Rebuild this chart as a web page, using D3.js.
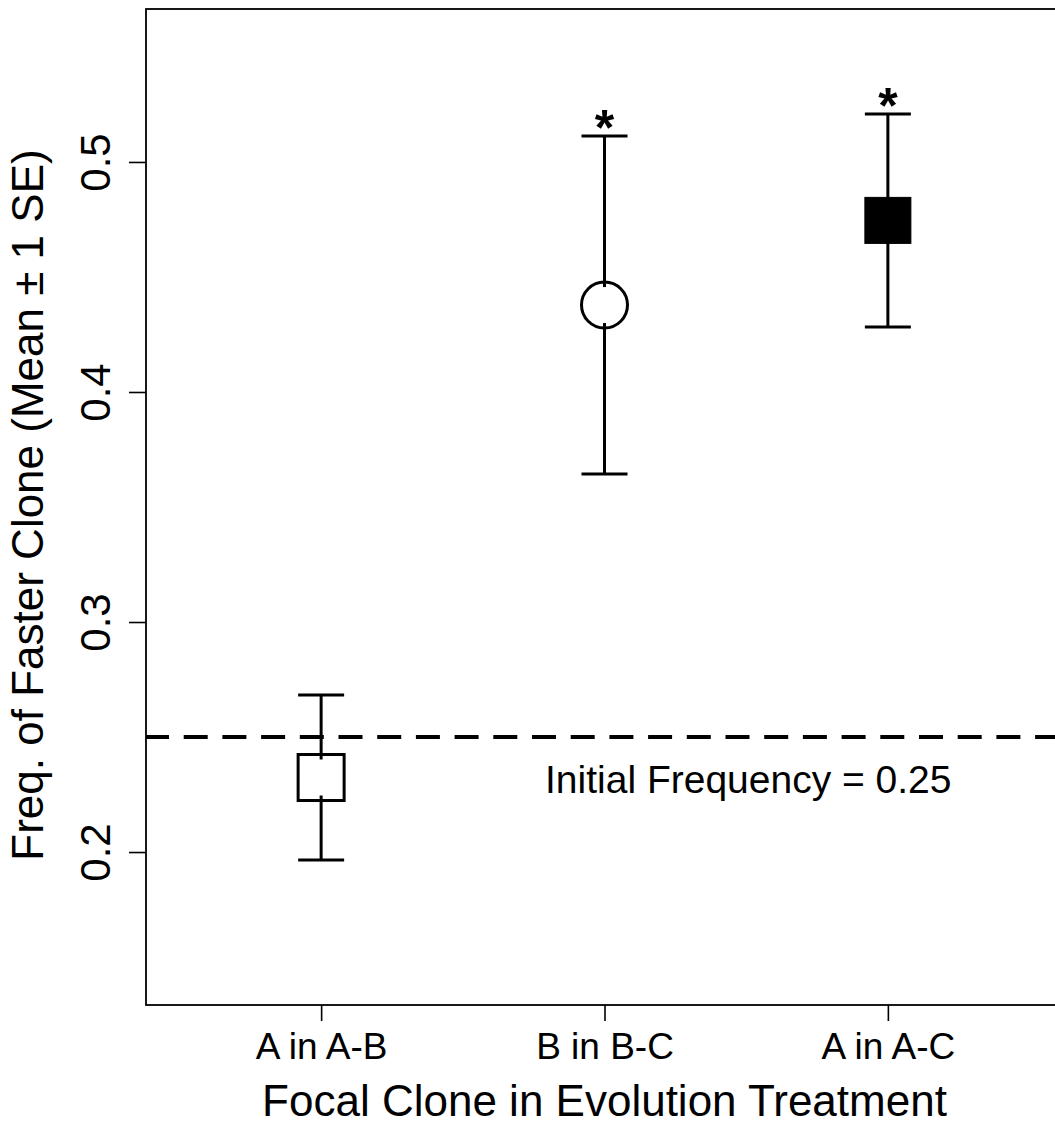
<!DOCTYPE html>
<html>
<head>
<meta charset="utf-8">
<script src="https://cdn.jsdelivr.net/npm/d3@7"></script>
<style>
  html, body { margin: 0; padding: 0; background: #fff; }
  svg { display: block; }
  text { font-family: "Liberation Sans", Arial, Helvetica, sans-serif; fill: #000; }
</style>
</head>
<body>
<script>
// ---- data ----
const categories = ["A in A-B", "B in B-C", "A in A-C"];
const means = [0.2324, 0.4378, 0.4746];
const upper = [0.2683, 0.5113, 0.5209];
const lower = [0.1965, 0.3643, 0.4283];
const markers = ["square-open", "circle-open", "square-filled"];
const significant = [false, true, true];
const yTicks = [0.2, 0.3, 0.4, 0.5];
const initialFreq = 0.25;
const initialLabel = "Initial Frequency = 0.25";
const xTitle = "Focal Clone in Evolution Treatment";
const yTitle = "Freq. of Faster Clone (Mean \u00B1 1 SE)";

// ---- layout ----
const W = 1055, H = 1127;
const mLeft = 146, mTop = 9, mRight = 1063, mBottom = 1005;

const svg = d3.select("body").append("svg").attr("width", W).attr("height", H);

const x = d3.scaleLinear().domain([0.382, 3.618]).range([mLeft, mRight]);
const y = d3.scaleLinear().domain([0.1335, 0.5665]).range([mBottom, mTop]);

// box
svg.append("rect")
  .attr("x", mLeft).attr("y", mTop)
  .attr("width", mRight - mLeft).attr("height", mBottom - mTop)
  .attr("fill", "none").attr("stroke", "#000").attr("stroke-width", 1.8);

// y axis
const yAxis = svg.append("g")
  .attr("transform", `translate(${mLeft},0)`)
  .call(d3.axisLeft(y).tickValues(yTicks).tickSize(17).tickFormat(d3.format(".1f")));
yAxis.select(".domain").remove();
yAxis.selectAll(".tick line").attr("stroke", "#000").attr("stroke-width", 1.6);
yAxis.selectAll(".tick text")
  .attr("x", 0).attr("y", 0).attr("dy", 0)
  .attr("text-anchor", "middle")
  .attr("transform", "translate(-36,0) rotate(-90)")
  .style("font-size", "42px")
  .style("font-family", '"Liberation Sans", Arial, sans-serif')
  .attr("fill", "#000");

// x axis
const xAxis = svg.append("g")
  .attr("transform", `translate(0,${mBottom})`)
  .call(d3.axisBottom(x).tickValues([1, 2, 3]).tickSize(16).tickFormat((d, i) => categories[i]));
xAxis.select(".domain").remove();
xAxis.selectAll(".tick line").attr("stroke", "#000").attr("stroke-width", 1.6);
xAxis.selectAll(".tick text")
  .attr("y", 54).attr("dy", 0)
  .style("font-size", "37px")
  .style("font-family", '"Liberation Sans", Arial, sans-serif')
  .attr("fill", "#000");

// axis titles
svg.append("text")
  .attr("x", (mLeft + mRight) / 2).attr("y", 1116)
  .attr("text-anchor", "middle")
  .style("font-size", "44px")
  .text(xTitle);

svg.append("text")
  .attr("transform", `translate(43,${(mTop + mBottom) / 2 - 2}) rotate(-90)`)
  .attr("text-anchor", "middle")
  .style("font-size", "44px")
  .text(yTitle);

// clip for plot region
svg.append("clipPath").attr("id", "plotclip")
  .append("rect").attr("x", mLeft).attr("y", mTop).attr("width", mRight - mLeft).attr("height", mBottom - mTop);

// reference line
svg.append("line")
  .attr("clip-path", "url(#plotclip)")
  .attr("x1", mLeft - 1).attr("x2", mRight)
  .attr("y1", y(initialFreq)).attr("y2", y(initialFreq))
  .attr("stroke", "#000").attr("stroke-width", 4)
  .attr("stroke-dasharray", "24 14.7");

svg.append("text")
  .attr("x", 545).attr("y", y(initialFreq) + 56)
  .style("font-size", "39px")
  .text(initialLabel);

// error bars and markers
const half = 23, inset = 18, capHalf = 23;
const g = svg.append("g");
categories.forEach((c, i) => {
  const cx = x(i + 1);
  const ym = y(means[i]), yu = y(upper[i]), yl = y(lower[i]);
  g.append("line").attr("x1", cx).attr("x2", cx).attr("y1", yu).attr("y2", ym - inset)
    .attr("stroke", "#000").attr("stroke-width", 3);
  g.append("line").attr("x1", cx).attr("x2", cx).attr("y1", ym + inset).attr("y2", yl)
    .attr("stroke", "#000").attr("stroke-width", 3);
  [yu, yl].forEach(yy => {
    g.append("line").attr("x1", cx - capHalf).attr("x2", cx + capHalf)
      .attr("y1", yy).attr("y2", yy)
      .attr("stroke", "#000").attr("stroke-width", 3);
  });
  if (markers[i] === "square-open") {
    g.append("rect").attr("x", cx - half).attr("y", ym - half)
      .attr("width", 2 * half).attr("height", 2 * half)
      .attr("fill", "none").attr("stroke", "#000").attr("stroke-width", 3);
  } else if (markers[i] === "circle-open") {
    g.append("circle").attr("cx", cx).attr("cy", ym).attr("r", half)
      .attr("fill", "none").attr("stroke", "#000").attr("stroke-width", 3);
  } else {
    g.append("rect").attr("x", cx - half).attr("y", ym - half)
      .attr("width", 2 * half).attr("height", 2 * half)
      .attr("fill", "#000").attr("stroke", "#000").attr("stroke-width", 1);
  }
  if (significant[i]) {
    g.append("text").attr("x", cx).attr("y", yu + 9)
      .attr("text-anchor", "middle")
      .style("font-size", "50px").style("font-weight", "bold")
      .text("*");
  }
});
</script>
</body>
</html>
